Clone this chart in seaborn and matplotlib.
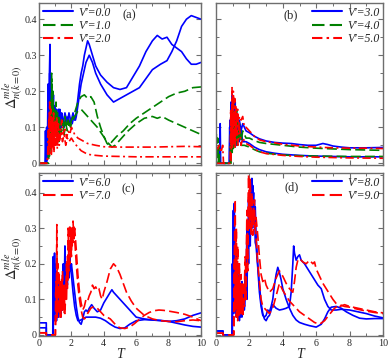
import matplotlib
matplotlib.use('Agg')
import matplotlib.pyplot as plt
import seaborn as sns
import pandas as pd
from matplotlib.lines import Line2D
from matplotlib.ticker import MultipleLocator

# ---------------- data (T, value) ----------------
# panel (a)
a_v0_1 = [(0,0),(0.38,0),(0.40,0.09),(0.43,0.02),(0.47,0.10),(0.52,0.05),(0.56,0.22),(0.60,0.12),(0.64,0.24),(0.68,0.33),(0.70,0.10),(0.74,0.18),(0.78,0.12),(0.82,0.20),(0.86,0.10),(0.90,0.16),(0.95,0.12),(1.00,0.15),(1.05,0.09),(1.10,0.14),(1.15,0.10),(1.20,0.15),(1.25,0.11),(1.30,0.13),(1.35,0.10),(1.40,0.14),(1.45,0.12),(1.50,0.11),(1.60,0.14),(1.70,0.12),(1.80,0.13),(1.90,0.11),(2.00,0.12),(2.10,0.14),(2.20,0.12),(2.30,0.14),(2.40,0.18),(2.50,0.22),(2.60,0.25),(2.70,0.27),(2.80,0.30),(2.90,0.32),(3.00,0.34),(3.10,0.33),(3.30,0.30),(3.50,0.27),(3.80,0.245),(4.20,0.225),(4.60,0.21),(5.00,0.205),(5.40,0.21),(5.80,0.24),(6.20,0.27),(6.60,0.31),(7.00,0.34),(7.30,0.355),(7.60,0.345),(7.90,0.35),(8.20,0.33),(8.50,0.32),(8.80,0.31),(9.10,0.29),(9.40,0.275),(9.70,0.275),(10.0,0.28)]
a_v0_2 = [(0,0),(0.40,0),(0.42,0.06),(0.46,0.0),(0.55,0.02),(0.58,0.20),(0.62,0.08),(0.66,0.25),(0.70,0.14),(0.73,0.22),(0.77,0.09),(0.81,0.17),(0.85,0.13),(0.89,0.19),(0.93,0.10),(0.98,0.16),(1.03,0.11),(1.08,0.15),(1.13,0.09),(1.18,0.13),(1.23,0.10),(1.28,0.15),(1.33,0.12),(1.38,0.10),(1.45,0.13),(1.55,0.10),(1.65,0.13),(1.75,0.11),(1.85,0.14),(1.95,0.12),(2.05,0.11),(2.15,0.13),(2.25,0.12),(2.30,0.13),(2.40,0.16),(2.50,0.19),(2.60,0.22),(2.70,0.24),(2.80,0.26),(2.90,0.28),(3.00,0.29),(3.10,0.30),(3.30,0.28),(3.50,0.25),(3.80,0.22),(4.20,0.19),(4.60,0.17),(5.00,0.18),(5.40,0.19),(5.80,0.20),(6.20,0.21),(6.60,0.235),(7.00,0.26),(7.50,0.275),(7.90,0.285),(8.20,0.31),(8.50,0.34),(8.80,0.38),(9.10,0.40),(9.40,0.41),(9.70,0.405),(10.0,0.40)]
a_v1_1 = [(0,0),(0.55,0),(0.60,0.05),(0.65,0.02),(0.70,0.15),(0.75,0.08),(0.78,0.25),(0.82,0.06),(0.86,0.20),(0.90,0.08),(0.95,0.15),(1.00,0.10),(1.05,0.17),(1.10,0.07),(1.15,0.14),(1.20,0.09),(1.25,0.13),(1.30,0.08),(1.40,0.12),(1.50,0.09),(1.60,0.13),(1.70,0.10),(1.80,0.12),(1.90,0.10),(2.00,0.12),(2.20,0.14),(2.40,0.17),(2.60,0.185),(2.80,0.19),(3.00,0.18),(3.20,0.185),(3.40,0.17),(3.60,0.13),(3.80,0.10),(4.00,0.075),(4.20,0.055),(4.35,0.05),(4.50,0.06),(4.80,0.075),(5.20,0.09),(5.60,0.11),(6.00,0.125),(6.50,0.14),(7.00,0.155),(7.50,0.17),(8.00,0.185),(8.50,0.195),(9.00,0.20),(9.50,0.21),(10.0,0.212)]
a_v1_2 = [(0,0),(0.60,0),(0.63,0.08),(0.67,0.03),(0.72,0.18),(0.76,0.05),(0.80,0.22),(0.84,0.07),(0.88,0.16),(0.92,0.05),(0.97,0.13),(1.02,0.07),(1.07,0.15),(1.12,0.08),(1.17,0.12),(1.22,0.06),(1.27,0.11),(1.35,0.08),(1.45,0.12),(1.55,0.08),(1.65,0.11),(1.75,0.09),(1.85,0.11),(1.95,0.10),(2.00,0.11),(2.20,0.13),(2.40,0.145),(2.60,0.15),(2.80,0.14),(3.00,0.13),(3.30,0.115),(3.60,0.10),(3.90,0.08),(4.20,0.06),(4.50,0.045),(4.70,0.05),(5.00,0.065),(5.50,0.09),(6.00,0.11),(6.50,0.125),(7.00,0.13),(7.30,0.125),(7.60,0.13),(8.00,0.12),(8.50,0.11),(9.00,0.10),(9.50,0.09),(10.0,0.08)]
a_v2_1 = [(0,0),(0.50,0),(0.55,0.03),(0.60,0.12),(0.63,0.05),(0.66,0.17),(0.70,0.06),(0.74,0.15),(0.78,0.03),(0.82,0.13),(0.86,0.06),(0.90,0.14),(0.95,0.05),(1.00,0.12),(1.05,0.07),(1.10,0.13),(1.15,0.06),(1.20,0.11),(1.30,0.07),(1.40,0.12),(1.50,0.08),(1.60,0.10),(1.70,0.07),(1.80,0.09),(1.90,0.08),(2.00,0.10),(2.20,0.08),(2.40,0.07),(2.60,0.065),(2.80,0.06),(3.00,0.055),(3.50,0.05),(4.00,0.046),(5.00,0.045),(6.00,0.045),(7.00,0.045),(8.00,0.046),(9.00,0.047),(10.0,0.046)]
a_v2_2 = [(0,0),(0.52,0),(0.57,0.09),(0.61,0.02),(0.65,0.14),(0.69,0.04),(0.72,0.11),(0.76,0.02),(0.80,0.10),(0.84,0.04),(0.88,0.12),(0.93,0.03),(0.98,0.10),(1.03,0.05),(1.08,0.11),(1.13,0.04),(1.18,0.09),(1.25,0.05),(1.35,0.09),(1.45,0.06),(1.55,0.08),(1.65,0.05),(1.75,0.07),(1.85,0.06),(2.00,0.07),(2.20,0.055),(2.40,0.045),(2.60,0.035),(2.80,0.03),(3.00,0.025),(3.50,0.022),(4.00,0.02),(5.00,0.019),(6.00,0.018),(8.00,0.018),(10.0,0.018)]

# panel (b)
b_v3_1 = [(0,0),(0.22,0),(0.25,0.11),(0.28,0),(0.80,0),(0.82,0.10),(0.86,0.03),(0.90,0.17),(0.94,0.06),(0.98,0.19),(1.02,0.05),(1.06,0.15),(1.10,0.07),(1.15,0.17),(1.20,0.06),(1.25,0.14),(1.30,0.08),(1.40,0.12),(1.50,0.09),(1.60,0.11),(1.80,0.09),(2.00,0.085),(2.30,0.075),(2.60,0.068),(3.00,0.062),(3.50,0.058),(4.00,0.056),(4.50,0.055),(5.00,0.052),(5.50,0.05),(6.00,0.05),(6.40,0.055),(6.70,0.052),(7.00,0.048),(7.50,0.045),(8.00,0.043),(9.00,0.043),(10.0,0.044)]
b_v3_2 = [(0,0),(0.80,0),(0.84,0.12),(0.88,0.04),(0.92,0.15),(0.96,0.05),(1.00,0.18),(1.04,0.06),(1.08,0.16),(1.12,0.05),(1.18,0.13),(1.24,0.05),(1.30,0.11),(1.40,0.06),(1.50,0.09),(1.60,0.06),(1.80,0.06),(2.00,0.055),(2.30,0.045),(2.60,0.038),(3.00,0.032),(3.50,0.028),(4.00,0.025),(5.00,0.022),(6.00,0.02),(7.00,0.019),(8.00,0.018),(9.00,0.018),(10.0,0.018)]
b_v4_1 = [(0,0),(0.02,0.08),(0.06,0.01),(0.10,0.07),(0.14,0.0),(0.18,0.05),(0.22,0),(0.85,0),(0.88,0.08),(0.92,0.03),(0.96,0.16),(1.00,0.04),(1.04,0.17),(1.08,0.05),(1.12,0.13),(1.18,0.06),(1.24,0.15),(1.30,0.07),(1.40,0.11),(1.50,0.06),(1.60,0.09),(1.80,0.07),(2.00,0.07),(2.30,0.063),(2.60,0.058),(3.00,0.055),(4.00,0.05),(5.00,0.045),(6.00,0.042),(7.00,0.04),(8.00,0.038),(9.00,0.037),(10.0,0.036)]
b_v4_2 = [(0,0),(0.90,0),(0.93,0.10),(0.97,0.03),(1.01,0.14),(1.05,0.04),(1.10,0.12),(1.15,0.04),(1.20,0.10),(1.30,0.05),(1.40,0.08),(1.50,0.05),(1.70,0.05),(2.00,0.045),(2.30,0.038),(2.60,0.032),(3.00,0.028),(4.00,0.023),(5.00,0.021),(6.00,0.02),(8.00,0.019),(10.0,0.019)]
b_v5_1 = [(0,0.05),(0.10,0.04),(0.20,0.05),(0.30,0.03),(0.40,0.05),(0.45,0),(0.85,0),(0.88,0.15),(0.92,0.05),(0.96,0.21),(1.00,0.08),(1.04,0.20),(1.08,0.06),(1.12,0.18),(1.16,0.07),(1.20,0.16),(1.25,0.08),(1.30,0.15),(1.35,0.09),(1.40,0.13),(1.50,0.12),(1.60,0.13),(1.70,0.10),(1.80,0.10),(2.00,0.09),(2.30,0.075),(2.60,0.065),(3.00,0.06),(3.50,0.057),(4.00,0.053),(5.00,0.048),(6.00,0.045),(7.00,0.043),(8.00,0.042),(9.00,0.042),(10.0,0.041)]
b_v5_2 = [(0,0),(0.90,0),(0.94,0.13),(0.98,0.04),(1.02,0.17),(1.06,0.05),(1.10,0.14),(1.15,0.04),(1.20,0.12),(1.30,0.05),(1.40,0.10),(1.50,0.05),(1.60,0.07),(1.80,0.055),(2.00,0.05),(2.30,0.04),(2.60,0.032),(3.00,0.027),(4.00,0.022),(5.00,0.019),(6.00,0.017),(8.00,0.015),(10.0,0.014)]

# panel (c)
c_v6_1 = [(0,0.034),(0.45,0.034),(0.45,0),(0.85,0),(0.88,0.22),(0.92,0.05),(0.96,0.23),(1.00,0.08),(1.04,0.18),(1.08,0.04),(1.12,0.15),(1.16,0.06),(1.20,0.17),(1.25,0.08),(1.30,0.14),(1.35,0.05),(1.40,0.12),(1.45,0.07),(1.50,0.16),(1.55,0.10),(1.60,0.25),(1.65,0.12),(1.70,0.20),(1.75,0.14),(1.80,0.21),(1.85,0.16),(1.90,0.22),(1.95,0.18),(2.00,0.20),(2.10,0.16),(2.20,0.12),(2.30,0.08),(2.40,0.05),(2.50,0.035),(2.60,0.03),(2.70,0.045),(2.80,0.065),(2.90,0.07),(3.00,0.065),(3.10,0.075),(3.25,0.085),(3.40,0.075),(3.60,0.065),(3.80,0.07),(4.00,0.09),(4.20,0.105),(4.40,0.12),(4.50,0.127),(4.60,0.12),(4.80,0.11),(5.00,0.10),(5.30,0.085),(5.60,0.07),(6.00,0.05),(6.50,0.045),(7.00,0.042),(7.50,0.041),(8.00,0.038),(8.50,0.033),(9.00,0.028),(9.50,0.024),(10.0,0.022)]
c_v6_2 = [(0,0.02),(0.45,0.02),(0.45,0),(0.88,0),(0.90,0.15),(0.94,0.04),(0.98,0.20),(1.02,0.06),(1.06,0.14),(1.10,0.05),(1.15,0.12),(1.20,0.05),(1.25,0.11),(1.30,0.06),(1.40,0.14),(1.45,0.07),(1.50,0.20),(1.55,0.11),(1.60,0.18),(1.70,0.13),(1.80,0.19),(1.90,0.20),(2.00,0.17),(2.10,0.12),(2.20,0.08),(2.30,0.055),(2.40,0.04),(2.50,0.04),(2.70,0.045),(2.90,0.05),(3.10,0.05),(3.30,0.05),(3.50,0.05),(3.80,0.047),(4.10,0.04),(4.40,0.03),(4.70,0.022),(5.00,0.018),(5.30,0.02),(5.60,0.03),(6.00,0.04),(6.50,0.043),(7.00,0.042),(7.50,0.04),(8.00,0.038),(8.50,0.04),(9.00,0.045),(9.50,0.055),(10.0,0.062)]
c_v7_1 = [(0,0.006),(0.45,0.006),(0.45,0),(1.00,0),(1.03,0.12),(1.06,0.04),(1.10,0.31),(1.13,0.05),(1.17,0.20),(1.20,0.06),(1.25,0.17),(1.30,0.05),(1.35,0.15),(1.40,0.07),(1.45,0.18),(1.50,0.08),(1.55,0.14),(1.60,0.06),(1.65,0.12),(1.70,0.20),(1.75,0.13),(1.80,0.30),(1.85,0.18),(1.90,0.31),(1.95,0.22),(2.00,0.30),(2.05,0.25),(2.10,0.32),(2.15,0.27),(2.20,0.30),(2.30,0.24),(2.40,0.17),(2.50,0.12),(2.60,0.09),(2.70,0.07),(2.80,0.08),(2.90,0.10),(3.00,0.095),(3.10,0.11),(3.20,0.12),(3.30,0.14),(3.40,0.13),(3.50,0.135),(3.60,0.125),(3.70,0.13),(3.80,0.11),(3.90,0.10),(4.00,0.12),(4.20,0.15),(4.40,0.185),(4.60,0.20),(4.80,0.19),(5.00,0.17),(5.20,0.145),(5.40,0.12),(5.70,0.095),(6.00,0.075),(6.50,0.055),(7.00,0.045),(7.50,0.04),(8.00,0.038),(8.50,0.037),(9.00,0.04),(9.50,0.042),(10.0,0.04)]
c_v7_2 = [(0,0.006),(0.45,0.006),(0.45,0),(1.02,0),(1.05,0.15),(1.08,0.05),(1.12,0.22),(1.16,0.06),(1.20,0.18),(1.25,0.07),(1.30,0.13),(1.35,0.05),(1.40,0.16),(1.45,0.07),(1.50,0.12),(1.55,0.06),(1.60,0.14),(1.70,0.10),(1.75,0.22),(1.80,0.15),(1.85,0.27),(1.90,0.20),(1.95,0.29),(2.00,0.22),(2.05,0.30),(2.10,0.26),(2.15,0.31),(2.20,0.27),(2.30,0.20),(2.40,0.14),(2.50,0.10),(2.60,0.07),(2.70,0.05),(2.80,0.045),(2.90,0.05),(3.00,0.06),(3.20,0.075),(3.40,0.08),(3.60,0.075),(3.80,0.065),(4.00,0.055),(4.20,0.05),(4.40,0.045),(4.60,0.035),(4.80,0.025),(5.00,0.02),(5.30,0.018),(5.60,0.022),(5.90,0.032),(6.20,0.044),(6.50,0.055),(6.80,0.063),(7.10,0.068),(7.40,0.07),(7.70,0.069),(8.00,0.067),(8.50,0.063),(9.00,0.058),(9.50,0.05),(10.0,0.04)]

# panel (d)
d_v8_1 = [(0,0.011),(0.42,0.011),(0.42,0),(0.95,0),(0.98,0.20),(1.02,0.06),(1.06,0.30),(1.10,0.37),(1.14,0.10),(1.18,0.25),(1.22,0.05),(1.26,0.20),(1.30,0.07),(1.35,0.15),(1.40,0.04),(1.45,0.12),(1.50,0.06),(1.55,0.15),(1.60,0.07),(1.65,0.13),(1.70,0.08),(1.75,0.18),(1.80,0.12),(1.85,0.30),(1.90,0.20),(1.95,0.38),(2.00,0.28),(2.05,0.42),(2.10,0.33),(2.15,0.44),(2.20,0.35),(2.25,0.40),(2.30,0.30),(2.35,0.36),(2.40,0.28),(2.50,0.20),(2.60,0.14),(2.70,0.09),(2.80,0.06),(2.90,0.045),(3.00,0.04),(3.10,0.05),(3.20,0.055),(3.30,0.07),(3.40,0.085),(3.50,0.08),(3.60,0.075),(3.80,0.07),(4.00,0.072),(4.20,0.075),(4.40,0.08),(4.50,0.12),(4.60,0.20),(4.65,0.25),(4.70,0.23),(4.80,0.21),(4.90,0.22),(5.00,0.225),(5.10,0.21),(5.30,0.20),(5.50,0.185),(5.70,0.17),(5.90,0.155),(6.10,0.14),(6.30,0.13),(6.50,0.10),(6.70,0.08),(6.90,0.07),(7.20,0.07),(7.50,0.072),(8.00,0.07),(8.50,0.065),(9.00,0.06),(9.50,0.053),(10.0,0.048)]
d_v8_2 = [(0,0.011),(0.42,0.011),(0.42,0),(0.98,0),(1.00,0.12),(1.04,0.35),(1.08,0.08),(1.12,0.28),(1.16,0.06),(1.20,0.22),(1.25,0.07),(1.30,0.17),(1.35,0.05),(1.40,0.14),(1.45,0.05),(1.50,0.10),(1.55,0.05),(1.60,0.11),(1.70,0.07),(1.80,0.16),(1.85,0.10),(1.90,0.28),(1.95,0.20),(2.00,0.35),(2.05,0.25),(2.10,0.39),(2.15,0.30),(2.20,0.42),(2.25,0.32),(2.30,0.38),(2.35,0.26),(2.40,0.25),(2.50,0.19),(2.60,0.12),(2.70,0.08),(2.80,0.055),(2.90,0.05),(3.00,0.055),(3.10,0.07),(3.20,0.065),(3.30,0.08),(3.40,0.10),(3.50,0.14),(3.60,0.17),(3.70,0.19),(3.80,0.175),(3.90,0.155),(4.00,0.13),(4.20,0.10),(4.40,0.075),(4.60,0.055),(4.80,0.042),(5.00,0.035),(5.30,0.03),(5.60,0.026),(6.00,0.022),(6.30,0.03),(6.50,0.045),(6.70,0.065),(6.90,0.078),(7.20,0.08),(7.50,0.075),(7.80,0.065),(8.20,0.055),(8.60,0.047),(9.00,0.045),(9.50,0.046),(10.0,0.046)]
d_v9_1 = [(0,0.005),(0.42,0.005),(0.42,0),(1.05,0),(1.08,0.15),(1.12,0.30),(1.15,0.38),(1.18,0.12),(1.22,0.30),(1.26,0.08),(1.30,0.25),(1.35,0.06),(1.40,0.20),(1.45,0.08),(1.50,0.17),(1.55,0.07),(1.60,0.15),(1.65,0.09),(1.70,0.14),(1.75,0.22),(1.80,0.15),(1.85,0.35),(1.90,0.25),(1.95,0.45),(2.00,0.35),(2.05,0.44),(2.10,0.30),(2.15,0.40),(2.20,0.32),(2.30,0.38),(2.35,0.30),(2.40,0.33),(2.50,0.28),(2.60,0.22),(2.70,0.17),(2.80,0.15),(2.90,0.16),(3.00,0.14),(3.20,0.12),(3.40,0.13),(3.60,0.16),(3.80,0.18),(4.00,0.165),(4.20,0.145),(4.40,0.13),(4.60,0.12),(4.70,0.15),(4.80,0.19),(4.90,0.21),(5.00,0.215),(5.20,0.205),(5.40,0.20),(5.60,0.21),(5.80,0.20),(5.90,0.205),(6.00,0.185),(6.20,0.165),(6.40,0.145),(6.60,0.13),(6.80,0.115),(7.00,0.10),(7.20,0.088),(7.40,0.08),(7.70,0.085),(8.00,0.08),(8.50,0.075),(9.00,0.07),(9.50,0.065),(10.0,0.062)]
d_v9_2 = [(0,0.005),(0.42,0.005),(0.42,0),(1.08,0),(1.10,0.20),(1.14,0.07),(1.18,0.27),(1.22,0.05),(1.26,0.20),(1.30,0.04),(1.35,0.16),(1.40,0.05),(1.45,0.13),(1.50,0.06),(1.55,0.12),(1.60,0.05),(1.65,0.10),(1.70,0.08),(1.75,0.16),(1.80,0.10),(1.85,0.28),(1.90,0.18),(1.95,0.40),(2.00,0.30),(2.05,0.42),(2.10,0.28),(2.15,0.35),(2.20,0.28),(2.30,0.33),(2.40,0.27),(2.50,0.20),(2.60,0.15),(2.70,0.10),(2.80,0.08),(3.00,0.07),(3.20,0.06),(3.40,0.075),(3.60,0.11),(3.80,0.145),(4.00,0.125),(4.20,0.11),(4.40,0.095),(4.60,0.085),(4.80,0.075),(5.00,0.065),(5.30,0.055),(5.60,0.045),(5.90,0.035),(6.20,0.03),(6.50,0.04),(6.80,0.058),(7.10,0.075),(7.40,0.085),(7.70,0.08),(8.00,0.078),(8.50,0.072),(9.00,0.067),(9.50,0.063),(10.0,0.06)]

legend_a = ["V'=0.0", "V'=1.0", "V'=2.0"]
legend_b = ["V'=3.0", "V'=4.0", "V'=5.0"]
legend_c = ["V'=6.0", "V'=7.0"]
legend_d = ["V'=8.0", "V'=9.0"]
panel_labels = ["(a)", "(b)", "(c)", "(d)"]
x_ticks = [0, 2, 4, 6, 8, 10]
y_ticks = [0, 0.1, 0.2, 0.3, 0.4]
y_ticklabels = ["0", "0.1", "0.2", "0.3", "0.4"]

# ---------------- styling ----------------
sns.set_theme(style='ticks')
plt.rcParams['font.family'] = ['Liberation Serif', 'DejaVu Serif']
plt.rcParams['mathtext.fontset'] = 'stix'

BLUE, GREEN, RED = '#0000ff', '#008000', '#ff0000'
SOLID = '-'
DASH = (0, (6, 2.5))
DASHDOT = (0, (5, 2, 1.2, 2))
SPINE = '#6e6e6e'

W, H = 390, 361
fig = plt.figure(figsize=(W / 100, H / 100), dpi=100)

def rect(l, r, t, b):
    return [l / W, 1 - b / H, (r - l) / W, (b - t) / H]

ax_a = fig.add_axes(rect(39, 201, 3, 165))
ax_b = fig.add_axes(rect(216, 383, 3, 165))
ax_c = fig.add_axes(rect(39, 201, 173, 336))
ax_d = fig.add_axes(rect(216, 383, 173, 336))

def draw(ax, pts, color, ls):
    df = pd.DataFrame(pts, columns=['T', 'v'])
    sns.lineplot(data=df, x='T', y='v', ax=ax, color=color, linestyle=ls,
                 linewidth=1.2, sort=False, estimator=None)

draw(ax_a, a_v0_1, BLUE, SOLID); draw(ax_a, a_v0_2, BLUE, SOLID)
draw(ax_a, a_v1_1, GREEN, DASH); draw(ax_a, a_v1_2, GREEN, DASH)
draw(ax_a, a_v2_1, RED, DASHDOT); draw(ax_a, a_v2_2, RED, DASHDOT)

draw(ax_b, b_v3_1, BLUE, SOLID); draw(ax_b, b_v3_2, BLUE, SOLID)
draw(ax_b, b_v4_1, GREEN, DASH); draw(ax_b, b_v4_2, GREEN, DASH)
draw(ax_b, b_v5_1, RED, DASHDOT); draw(ax_b, b_v5_2, RED, DASHDOT)

draw(ax_c, c_v6_1, BLUE, SOLID); draw(ax_c, c_v6_2, BLUE, SOLID)
draw(ax_c, c_v7_1, RED, DASH); draw(ax_c, c_v7_2, RED, DASH)

draw(ax_d, d_v8_1, BLUE, SOLID); draw(ax_d, d_v8_2, BLUE, SOLID)
draw(ax_d, d_v9_1, RED, DASH); draw(ax_d, d_v9_2, RED, DASH)

ylabel = r'$\Delta^{mle}_{n(k=0)}$'
for i, ax in enumerate([ax_a, ax_b, ax_c, ax_d]):
    top = ax in (ax_a, ax_b)
    ax.set_xlim(0, 10)
    ax.set_ylim(-0.0047, 0.445) if top else ax.set_ylim(-0.003, 0.455)
    ax.set_xticks(x_ticks)
    ax.xaxis.set_minor_locator(MultipleLocator(1))
    ax.set_yticks(y_ticks)
    ax.yaxis.set_minor_locator(MultipleLocator(0.05))
    ax.tick_params(which='both', direction='in', top=True, right=True,
                   color=SPINE, labelsize=7.2)
    ax.tick_params(axis='y', pad=1.5)
    ax.tick_params(axis='x', pad=2)
    ax.tick_params(which='major', length=3.5, width=0.8)
    ax.tick_params(which='minor', length=2.2, width=0.7)
    for s in ax.spines.values():
        s.set_color(SPINE)
        s.set_linewidth(1.0)
    if ax in (ax_a, ax_c):
        ax.set_yticklabels(y_ticklabels)
        ax.set_ylabel(ylabel, fontsize=10.5)
        ax.yaxis.set_label_coords(-0.085, 0.48)
    else:
        ax.set_yticklabels([])
        ax.set_ylabel('')
    if top:
        ax.set_xticklabels([])
        ax.set_xlabel('')
    else:
        ax.set_xticklabels([str(t) for t in x_ticks])
        ax.set_xlabel('T', fontsize=10, fontstyle='italic', labelpad=0)

ax_a.text(0.56, 0.925, panel_labels[0], transform=ax_a.transAxes, fontsize=9, ha='center', va='center')
ax_b.text(0.45, 0.925, panel_labels[1], transform=ax_b.transAxes, fontsize=9, ha='center', va='center')
ax_c.text(0.55, 0.90, panel_labels[2], transform=ax_c.transAxes, fontsize=9, ha='center', va='center')
ax_d.text(0.45, 0.915, panel_labels[3], transform=ax_d.transAxes, fontsize=9, ha='center', va='center')

def legend(ax, labels, colors, styles, loc, anchor):
    handles = [Line2D([], [], color=c, linestyle=s, linewidth=1.5) for c, s in zip(colors, styles)]
    ax.legend(handles, labels, loc=loc, bbox_to_anchor=anchor, frameon=False,
              prop={'family': 'Liberation Serif', 'style': 'italic', 'size': 8.5},
              handlelength=2.6, handletextpad=0.4, labelspacing=0.1,
              borderpad=0.1, borderaxespad=0.2)

legend(ax_a, legend_a, [BLUE, GREEN, RED], [SOLID, DASH, DASHDOT], 'upper left', (0.0, 1.0))
legend(ax_b, legend_b, [BLUE, GREEN, RED], [SOLID, DASH, DASHDOT], 'upper right', (1.0, 1.0))
legend(ax_c, legend_c, [BLUE, RED], [SOLID, DASH], 'upper left', (0.0, 1.0))
legend(ax_d, legend_d, [BLUE, RED], [SOLID, DASH], 'upper right', (1.0, 1.0))

fig.savefig('out.png', dpi=100)
